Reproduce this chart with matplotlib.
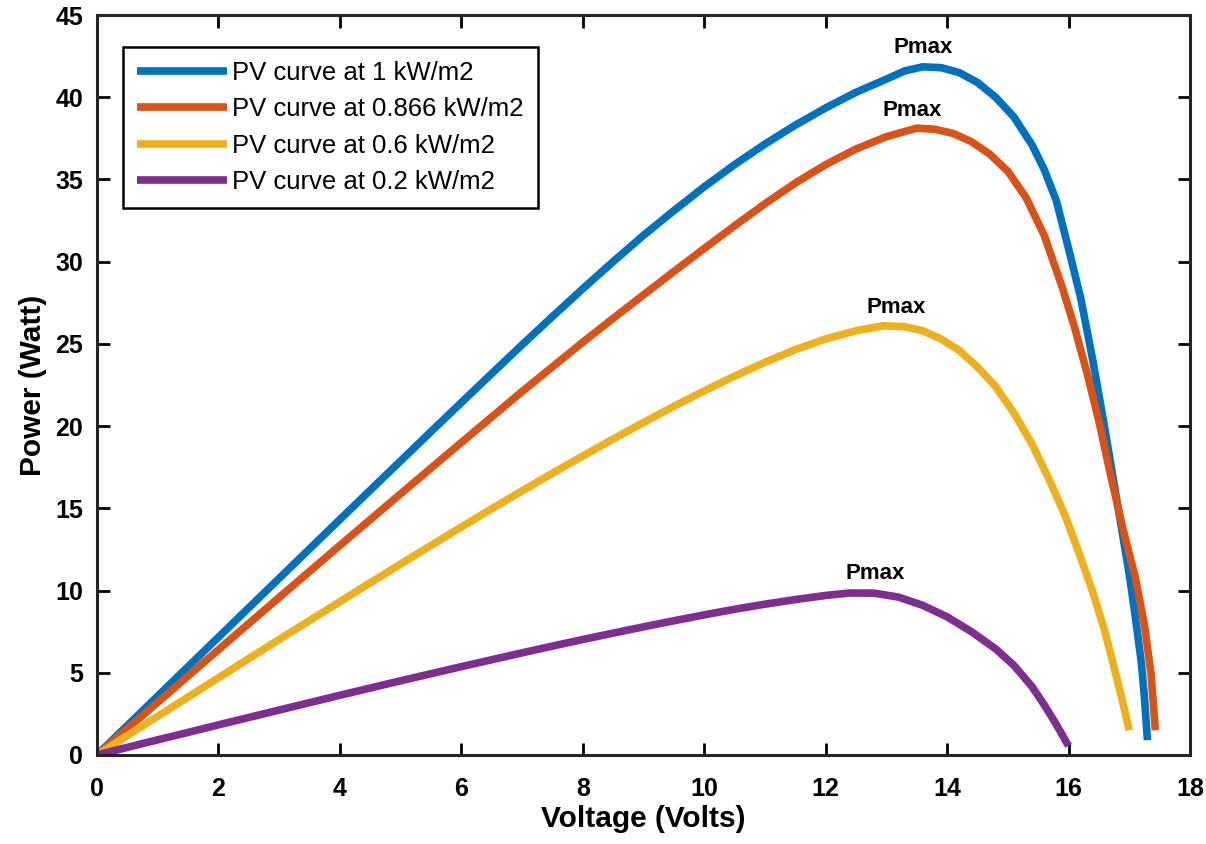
import matplotlib
matplotlib.use("Agg")
import matplotlib.pyplot as plt

# ---- data ----
labels = ["PV curve at 1 kW/m2", "PV curve at 0.866 kW/m2",
          "PV curve at 0.6 kW/m2", "PV curve at 0.2 kW/m2"]

v_1000 = [0, 0.5, 1, 1.5, 2, 2.5, 3, 3.5, 4, 4.5, 5, 5.5, 6, 6.5, 7, 7.5, 8, 8.5,
          9, 9.5, 10, 10.5, 11, 11.5, 12, 12.5, 13, 13.3, 13.6, 13.9, 14.2, 14.5,
          14.8, 15.1, 15.4, 15.6, 15.8, 16.0, 16.2, 16.4, 16.6, 16.8, 16.9, 17.0,
          17.1, 17.2, 17.25, 17.3]
p_1000 = [0, 1.79, 3.58, 5.37, 7.16, 8.95, 10.74, 12.53, 14.32, 16.1, 17.88,
          19.66, 21.43, 23.19, 24.94, 26.66, 28.35, 30.0, 31.6, 33.1, 34.55,
          35.9, 37.15, 38.3, 39.35, 40.3, 41.1, 41.6, 41.85, 41.8, 41.5, 40.9,
          40.0, 38.8, 37.1, 35.6, 33.7, 30.8, 27.8, 24.0, 19.8, 15.4, 13.2, 11.0,
          8.4, 5.6, 3.5, 0.9]

v_866 = [0, 0.5, 1, 1.5, 2, 2.5, 3, 3.5, 4, 4.5, 5, 5.5, 6, 6.5, 7, 7.5, 8, 8.5,
         9, 9.5, 10, 10.5, 11, 11.5, 12, 12.5, 13, 13.5, 13.8, 14.1, 14.4, 14.7,
         15.0, 15.3, 15.6, 15.9, 16.1, 16.3, 16.5, 16.7, 16.9, 17.1, 17.25,
         17.36, 17.43]
p_866 = [0, 1.6, 3.2, 4.8, 6.4, 7.99, 9.58, 11.16, 12.74, 14.31, 15.88, 17.44,
         19.0, 20.55, 22.1, 23.6, 25.1, 26.55, 27.98, 29.4, 30.8, 32.18, 33.52,
         34.78, 35.9, 36.85, 37.6, 38.12, 38.05, 37.8, 37.3, 36.55, 35.5, 33.9,
         31.6, 28.4, 26.0, 23.3, 20.3, 16.9, 13.7, 10.8, 7.9, 4.9, 1.5]

v_600 = [0, 0.5, 1, 1.5, 2, 2.5, 3, 3.5, 4, 4.5, 5, 5.5, 6, 6.5, 7, 7.5, 8, 8.5,
         9, 9.5, 10, 10.5, 11, 11.5, 12, 12.5, 12.95, 13.3, 13.6, 13.9, 14.2,
         14.5, 14.8, 15.1, 15.4, 15.7, 15.95, 16.2, 16.4, 16.6, 16.8, 16.9, 17.0]
p_600 = [0, 1.18, 2.35, 3.52, 4.69, 5.86, 7.02, 8.17, 9.32, 10.47, 11.61, 12.74,
         13.86, 14.97, 16.06, 17.13, 18.18, 19.21, 20.22, 21.2, 22.14, 23.04,
         23.88, 24.65, 25.3, 25.8, 26.1, 26.05, 25.8, 25.3, 24.6, 23.6, 22.4,
         20.8, 18.9, 16.6, 14.5, 12.0, 9.9, 7.5, 4.6, 3.1, 1.5]

v_200 = [0, 0.5, 1, 1.5, 2, 2.5, 3, 3.5, 4, 4.5, 5, 5.5, 6, 6.5, 7, 7.5, 8, 8.5,
         9, 9.5, 10, 10.5, 11, 11.5, 12, 12.4, 12.8, 13.2, 13.6, 14.0, 14.4,
         14.8, 15.1, 15.4, 15.6, 15.8, 16.0]
p_200 = [0, 0.46, 0.92, 1.37, 1.83, 2.28, 2.73, 3.18, 3.63, 4.07, 4.51, 4.94,
         5.37, 5.79, 6.21, 6.62, 7.02, 7.41, 7.79, 8.16, 8.52, 8.86, 9.17, 9.45,
         9.7, 9.85, 9.84, 9.6, 9.1, 8.4, 7.5, 6.45, 5.45, 4.15, 3.05, 1.85, 0.55]

pmax_label = "Pmax"
xticks = [0, 2, 4, 6, 8, 10, 12, 14, 16, 18]
yticks = [0, 5, 10, 15, 20, 25, 30, 35, 40, 45]

# ---- styling ----
colors = ["#0072BD", "#D95319", "#EDB120", "#7E2F8E"]
pmax_offsets = [(0, 14), (-3, 13), (9, 13), (18, 14)]   # points

plt.rcParams["font.family"] = ["Liberation Sans", "DejaVu Sans"]

fig = plt.figure(figsize=(12.06, 8.44), dpi=100)
ax = fig.add_axes([0.0804, 0.1055, 0.9063, 0.8767])

series = [(v_1000, p_1000), (v_866, p_866), (v_600, p_600), (v_200, p_200)]
for (v, p), c, lab, off in zip(series, colors, labels, pmax_offsets):
    ax.plot(v, p, color=c, lw=5.5, label=lab, solid_capstyle="butt",
            solid_joinstyle="round")
    i = p.index(max(p))
    ax.annotate(pmax_label, xy=(v[i], p[i]), xytext=off,
                textcoords="offset points", ha="center", va="center",
                fontsize=16, fontweight="bold", color="black")

ax.set_xlim(0, 18)
ax.set_ylim(0, 45)
ax.set_xticks(xticks)
ax.set_yticks(yticks)
ax.tick_params(direction="in", length=9, width=2, top=True, right=True,
               labelsize=18)
ax.tick_params(axis="x", pad=16)
ax.tick_params(axis="y", pad=10)
for lbl in ax.get_xticklabels() + ax.get_yticklabels():
    lbl.set_fontweight("bold")
for s in ax.spines.values():
    s.set_linewidth(2.2)
    s.set_color("#262626")

ax.set_xlabel("Voltage (Volts)", fontsize=21.5, fontweight="bold", labelpad=3)
ax.set_ylabel("Power (Watt)", fontsize=21.5, fontweight="bold", labelpad=6)

leg = ax.legend(loc="upper left", bbox_to_anchor=(0.0238, 0.9568),
                borderaxespad=0, fontsize=18.5, handlelength=3.5,
                handletextpad=0.2, labelspacing=0.48, borderpad=0.55,
                fancybox=False, framealpha=1, edgecolor="black")
leg.get_frame().set_linewidth(1.8)

fig.savefig("out.png", dpi=100)
